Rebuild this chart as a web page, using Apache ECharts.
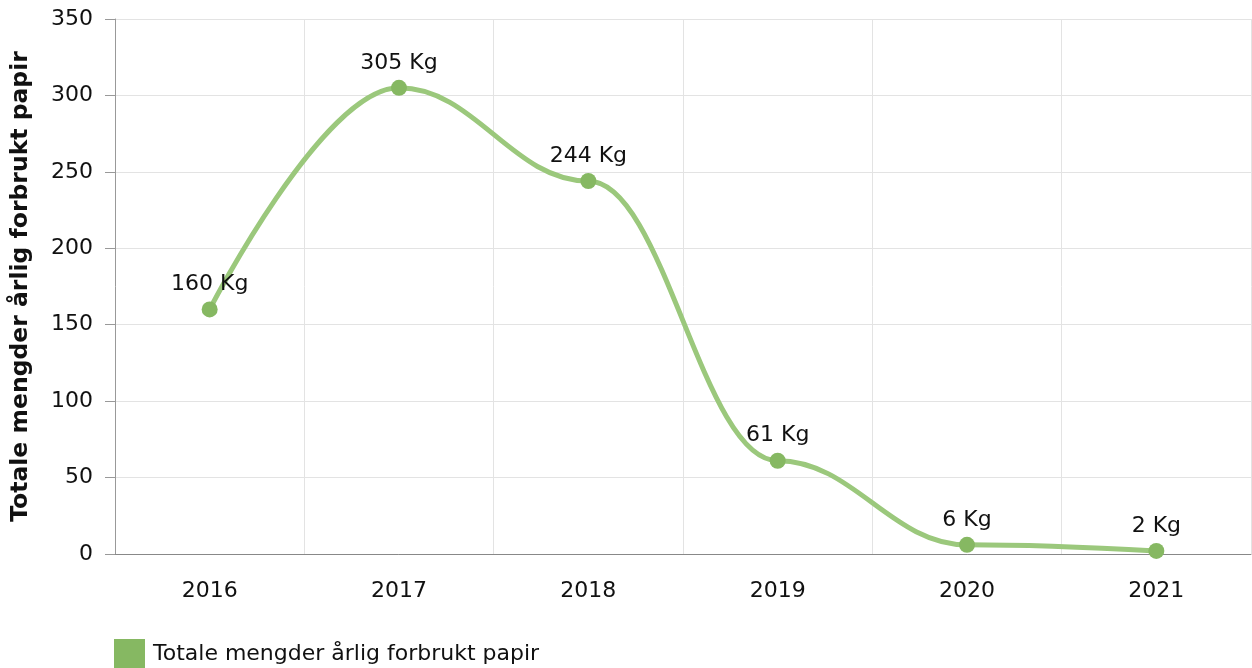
<!DOCTYPE html>
<html lang="no">
<head>
    <meta charset="UTF-8">
    <title>Forbruk papir</title>
    <style>
        html, body { margin: 0; padding: 0; background: #fff; }
        #chart1 { width: 1252px; height: 668px; }
    </style>
</head>
<body>
<div id="chart1"></div>
<script src="https://cdn.jsdelivr.net/npm/echarts@6/dist/echarts.min.js"></script>
<script type="text/javascript">
    var years = ['2016', '2017', '2018', '2019', '2020', '2021'];
    var paperKg = [160, 305, 244, 61, 6, 2];
    var seriesName = 'Totale mengder årlig forbrukt papir';
    var yTicks = [0, 50, 100, 150, 200, 250, 300, 350];

    var chart1 = echarts.init(document.getElementById('chart1'));
    var font = 'DejaVu Sans';

    chart1.setOption({
        animation: false,
        textStyle: { fontFamily: font },
        grid: { left: 115, right: 1, top: 19, bottom: 114, outerBoundsMode: 'none' },
        legend: {
            left: 114, top: 636, padding: 0,
            itemWidth: 31, itemHeight: 30,
            icon: 'rect',
            textStyle: { fontFamily: font, fontSize: 22, color: '#111', lineHeight: 36, padding: [0, 0, 0, 3] },
            data: [seriesName]
        },
        xAxis: {
            type: 'category',
            data: years,
            boundaryGap: true,
            axisLine: { lineStyle: { color: '#888' } },
            axisTick: { alignWithLabel: true, length: 10, lineStyle: { color: '#ccc' } },
            axisLabel: { margin: 26, fontSize: 22, color: '#111', fontFamily: font },
            splitLine: { show: true, lineStyle: { color: '#e3e3e3' } }
        },
        yAxis: {
            type: 'value',
            min: yTicks[0], max: yTicks[yTicks.length - 1], interval: 50,
            name: seriesName,
            nameLocation: 'middle',
            nameGap: 82,
            nameTextStyle: { fontSize: 23.5, fontWeight: 'bold', color: '#111', fontFamily: font },
            axisLine: { show: true, lineStyle: { color: '#999' } },
            axisTick: { show: true, length: 10, lineStyle: { color: '#999' } },
            axisLabel: { margin: 22, fontSize: 22, color: '#111', fontFamily: font },
            splitLine: { lineStyle: { color: '#e3e3e3' } }
        },
        series: [{
            name: seriesName,
            type: 'line',
            data: paperKg,
            smooth: 0.4,
            smoothMonotone: 'x',
            symbol: 'circle',
            symbolSize: 16,
            itemStyle: { color: '#86b862' },
            lineStyle: { color: '#9bc87c', width: 5 },
            label: {
                show: true, position: 'top', distance: 6,
                fontSize: 22, color: '#111', fontFamily: font,
                formatter: '{c} Kg'
            }
        }]
    });
</script>
</body>
</html>
